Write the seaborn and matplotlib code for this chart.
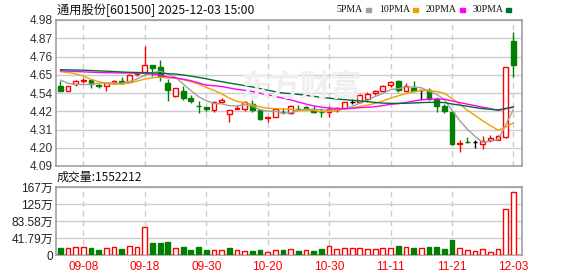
import numpy as np
import pandas as pd
import matplotlib
matplotlib.use("Agg")
import matplotlib.pyplot as plt
import seaborn as sns

# ---------------- data ----------------
dates = ["09-03", "09-04", "09-05", "09-08", "09-09", "09-10", "09-11", "09-12",
         "09-15", "09-16", "09-17", "09-18", "09-19", "09-22", "09-23", "09-24",
         "09-25", "09-26", "09-29", "09-30", "10-09", "10-10", "10-13", "10-14",
         "10-15", "10-16", "10-17", "10-20", "10-21", "10-22", "10-23", "10-24",
         "10-27", "10-28", "10-29", "10-30", "10-31", "11-03", "11-04", "11-05",
         "11-06", "11-07", "11-10", "11-11", "11-12", "11-13", "11-14", "11-17",
         "11-18", "11-19", "11-20", "11-21", "11-24", "11-25", "11-26", "11-27",
         "11-28", "12-01", "12-02", "12-03"]

opens = [4.58, 4.55, 4.587, 4.607, 4.614, 4.582, 4.575, 4.596, 4.606, 4.60,
         4.649, 4.661, 4.706, 4.691, 4.595, 4.518, 4.546, 4.503, 4.456, 4.452,
         4.429, 4.48, 4.404, 4.437, 4.438, 4.47, 4.433, 4.384, 4.39, 4.42,
         4.411, 4.438, 4.449, 4.44, 4.422, 4.418, 4.431, 4.441, 4.483, 4.48,
         4.497, 4.533, 4.548, 4.583, 4.61, 4.549, 4.567, 4.553, 4.553, 4.498,
         4.457, 4.421, 4.226, 4.236, 4.236, 4.224, 4.25, 4.25, 4.264, 4.85]
highs = [4.61, 4.58, 4.616, 4.624, 4.614, 4.591, 4.595, 4.614, 4.63, 4.65,
         4.665, 4.82, 4.706, 4.738, 4.62, 4.563, 4.575, 4.524, 4.487, 4.452,
         4.488, 4.504, 4.431, 4.461, 4.488, 4.49, 4.433, 4.39, 4.44, 4.444,
         4.46, 4.46, 4.458, 4.455, 4.445, 4.455, 4.451, 4.482, 4.499, 4.53,
         4.54, 4.553, 4.583, 4.61, 4.616, 4.594, 4.61, 4.555, 4.563, 4.508,
         4.468, 4.421, 4.248, 4.264, 4.25, 4.27, 4.278, 4.278, 4.691, 4.905]
lows = [4.55, 4.545, 4.579, 4.595, 4.565, 4.565, 4.546, 4.59, 4.59, 4.60,
        4.641, 4.645, 4.641, 4.61, 4.487, 4.508, 4.493, 4.477, 4.416, 4.426,
        4.421, 4.472, 4.36, 4.435, 4.427, 4.421, 4.372, 4.36, 4.386, 4.404,
        4.405, 4.43, 4.431, 4.415, 4.388, 4.388, 4.419, 4.435, 4.466, 4.472,
        4.48, 4.525, 4.539, 4.571, 4.539, 4.539, 4.55, 4.494, 4.494, 4.421,
        4.411, 4.218, 4.177, 4.232, 4.197, 4.193, 4.234, 4.246, 4.258, 4.63]
closes = [4.55, 4.58, 4.61, 4.612, 4.59, 4.58, 4.593, 4.608, 4.598, 4.645,
          4.657, 4.706, 4.69, 4.64, 4.555, 4.563, 4.503, 4.487, 4.454, 4.436,
          4.478, 4.49, 4.431, 4.443, 4.48, 4.433, 4.378, 4.39, 4.435, 4.418,
          4.453, 4.437, 4.44, 4.42, 4.417, 4.436, 4.442, 4.482, 4.483, 4.525,
          4.53, 4.548, 4.575, 4.60, 4.553, 4.579, 4.55, 4.553, 4.498, 4.453,
          4.427, 4.226, 4.232, 4.234, 4.236, 4.244, 4.262, 4.27, 4.691, 4.707]
prev_close_first = 4.57  # close of the day before 09-03

# volume in 万手
volumes = [17.2, 16.4, 18.9, 18.9, 17.2, 12.3, 16.4, 18.9, 14.8, 21.3,
           18.9, 68.1, 29.5, 29.5, 32.0, 16.4, 19.7, 12.3, 19.7, 12.3,
           12.3, 12.3, 17.2, 12.3, 9.8, 10.7, 12.3, 7.4, 12.3, 12.3,
           14.8, 9.8, 11.5, 9.8, 14.8, 22.1, 14.8, 16.4, 16.4, 16.4,
           14.8, 14.8, 16.4, 16.4, 22.1, 19.7, 17.2, 17.2, 19.7, 19.7,
           14.8, 36.9, 16.4, 11.5, 9.0, 13.9, 6.6, 13.9, 112.0, 155.2212]

ma5_head = [4.614, 4.594, 4.588, 4.586]
ma10_head = [4.665, 4.660, 4.652, 4.638, 4.618, 4.604, 4.594, 4.589, 4.589]
ma20_head = [4.671, 4.668, 4.666, 4.664, 4.662, 4.660, 4.659, 4.658, 4.657, 4.657,
             4.656, 4.655, 4.650, 4.643, 4.633, 4.627, 4.619, 4.610, 4.597]
ma30_head = [4.677, 4.676, 4.675, 4.674, 4.672, 4.670, 4.668, 4.666, 4.663, 4.661,
             4.660, 4.659, 4.657, 4.656, 4.653, 4.650, 4.645, 4.638, 4.630, 4.622,
             4.612, 4.604, 4.596, 4.588, 4.580, 4.572, 4.562, 4.552, 4.543]

ma_names = ["5PMA", "10PMA", "20PMA", "30PMA"]
ma_windows = [5, 10, 20, 30]
ma_colors = ["#a0a0a0", "#f0a000", "#ff00ff", "#006e33"]

price_min, price_max = 4.09, 4.98
price_tick_labels = ["4.09", "4.20", "4.31", "4.42", "4.54", "4.65", "4.76", "4.87", "4.98"]
vol_max = 167.16
vol_tick_labels = ["0", "41.79万", "83.58万", "125万", "167万"]
xtick_labels = ["09-08", "09-18", "09-30", "10-20", "10-30", "11-11", "11-21", "12-03"]
title = "通用股份[601500] 2025-12-03 15:00"
watermark = "东方财富"

# ---------------- style ----------------
sns.set_style("white")
plt.rcParams["font.family"] = ["Liberation Sans", "Noto Sans CJK SC", "DejaVu Sans"]
CJK = ["Noto Sans CJK SC", "DejaVu Sans"]

RED = "#ff0000"
GREEN = "#008000"
GRID = "#cccccc"
SPINE = "#999999"

W, H = 578, 276
fig = plt.figure(figsize=(W / 100, H / 100), dpi=100)
L, R = 56, 522
ax_p = fig.add_axes([L / W, 1 - 166 / H, (R - L) / W, (166 - 20) / H])
ax_v = fig.add_axes([L / W, 1 - 255 / H, (R - L) / W, (255 - 187) / H])

n = len(dates)
idx = np.arange(n)
o = np.array(opens); c = np.array(closes); hi = np.array(highs); lo = np.array(lows)
v = np.array(volumes)
xlim = (-0.56, n - 1 + 1.12)
xt = [dates.index(d) for d in xtick_labels]

# ---------------- price panel ----------------
fig.text(300 / W, 1 - 87 / H, watermark, fontsize=22, fontweight="bold",
         color="#efefef", ha="center", va="center", family=CJK, zorder=0)
ax_p.patch.set_alpha(0)

cand_col = np.where(c > o, RED, np.where(c < o, GREEN, "#000000"))
ax_p.vlines(idx, lo, hi, colors=cand_col, linewidth=1.0, zorder=2)
body_lo = np.minimum(o, c)
body_h = np.abs(c - o)
face = np.where(c > o, "white", cand_col)
ax_p.bar(idx, body_h, bottom=body_lo, width=0.62, color=face,
         edgecolor=cand_col, linewidth=1.0, zorder=3)

# moving averages
cs = pd.Series(closes)
heads = [ma5_head, ma10_head, ma20_head, ma30_head]
rows = []
for name, w, head in zip(ma_names, ma_windows, heads):
    m = cs.rolling(w).mean().to_numpy()
    m[:w - 1] = head
    rows.append(pd.DataFrame({"x": idx, "value": m, "ma": name}))
ma_df = pd.concat(rows, ignore_index=True)
sns.lineplot(data=ma_df, x="x", y="value", hue="ma", palette=dict(zip(ma_names, ma_colors)),
             linewidth=1.0, ax=ax_p, legend=False, zorder=4, sort=False, estimator=None)

ax_p.set_xlim(*xlim)
ax_p.set_ylim(price_min, price_max)
pt = np.linspace(price_min, price_max, len(price_tick_labels))
ax_p.set_yticks(pt)
ax_p.set_yticklabels(price_tick_labels, color="#333333", fontsize=8.6)
ax_p.set_xticks(xt)
ax_p.tick_params(axis="x", labelbottom=False, length=0)
ax_p.tick_params(axis="y", length=0, pad=2)
ax_p.grid(axis="y", color=GRID, linewidth=1.0, zorder=0)
ax_p.grid(axis="x", color=GRID, linewidth=1.0, linestyle=(0, (4, 3)), zorder=0)
ax_p.set_axisbelow(True)
ax_p.set_xlabel(""); ax_p.set_ylabel("")
for s in ax_p.spines.values():
    s.set_color(SPINE); s.set_linewidth(1.1); s.set_visible(True)

# ---------------- volume panel ----------------
pc = np.concatenate([[prev_close_first], c[:-1]])
vol_up = c >= pc
vcol = np.where(vol_up, RED, GREEN)
vface = np.where(vol_up, "white", GREEN)
ax_v.bar(idx, v, width=0.62, color=vface, edgecolor=vcol, linewidth=1.0, zorder=3)
ax_v.set_xlim(*xlim)
ax_v.set_ylim(0, vol_max)
vt = np.linspace(0, vol_max, len(vol_tick_labels))
ax_v.set_yticks(vt)
ax_v.set_yticklabels(vol_tick_labels, fontsize=8.6, color="#222222")
ax_v.set_xticks(xt)
ax_v.set_xticklabels(xtick_labels, color=RED, fontsize=8.6)
ax_v.tick_params(axis="both", length=0)
ax_v.tick_params(axis="y", pad=2)
ax_v.tick_params(axis="x", pad=4)
ax_v.grid(axis="y", color=GRID, linewidth=1.0, zorder=0)
ax_v.grid(axis="x", color=GRID, linewidth=1.0, linestyle=(0, (4, 3)), zorder=0)
ax_v.set_axisbelow(True)
for s in ax_v.spines.values():
    s.set_color(SPINE); s.set_linewidth(1.1); s.set_visible(True)

# ---------------- texts ----------------
fig.text(57 / W, 1 - 10 / H, title, fontsize=8.8, family=CJK, color="#111111",
         ha="left", va="center")
fig.text(57 / W, 1 - 177 / H, "成交量:%d" % int(round(volumes[-1] * 10000)),
         fontsize=8.6, family=CJK, color="#111111", ha="left", va="center")

# MA legend (label followed by a small colour square)
legend_sq_x = [368.5, 415.5, 462.5, 508.5]
for name, col, sx in zip(ma_names, ma_colors, legend_sq_x):
    fig.text((sx - 5.5) / W, 1 - 10 / H, name, fontsize=7.0, family=["Liberation Serif"],
             color="#111111", ha="right", va="center")
    fig.patches.append(plt.Rectangle(((sx - 2.5) / W, 1 - 12 / H), 5 / W, 4 / H,
                                     transform=fig.transFigure, color=col, figure=fig))

fig.savefig("out.png", dpi=100)
